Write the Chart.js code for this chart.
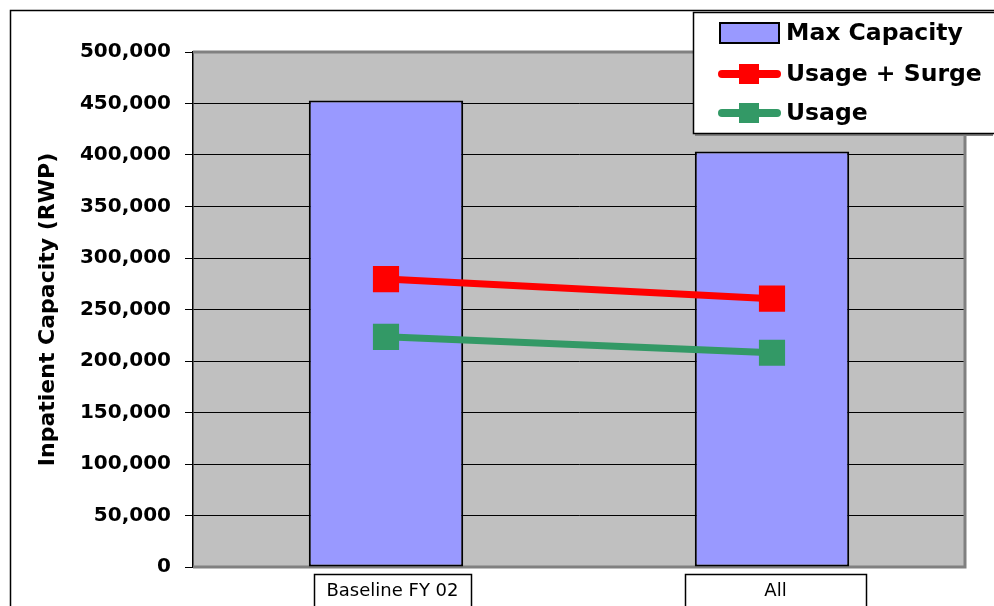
<!DOCTYPE html>
<html>
<head>
<meta charset="utf-8">
<script src="https://cdn.jsdelivr.net/npm/chart.js@4.4.0/dist/chart.umd.min.js"></script>
<style>
  html, body { margin: 0; padding: 0; background: #fff; }
  #wrap { width: 994px; height: 606px; }
</style>
</head>
<body>
<div id="wrap"><canvas id="capChart" width="994" height="606"></canvas></div>
<script>
// Chart data
const categories = ['Baseline FY 02', 'All'];
const maxCapacity = [453000, 403500];
const usageSurge = [279500, 260500];
const usage = [223500, 208000];
const yTicks = [0, 50000, 100000, 150000, 200000, 250000, 300000, 350000, 400000, 450000, 500000];

const FONT = '"DejaVu Sans", "Liberation Sans", Arial, sans-serif';

// Draws grey plot area, frame, label boxes and the legend box
const excelLook = {
    id: 'excelLook',
    beforeDraw(chart) {
        const { ctx, chartArea: a } = chart;
        ctx.save();
        ctx.fillStyle = '#C0C0C0';
        ctx.fillRect(a.left, a.top, a.right - a.left, a.bottom - a.top);
        // outer chart frame
        ctx.strokeStyle = '#000';
        ctx.lineWidth = 1.5;
        ctx.beginPath();
        ctx.moveTo(10.5, 606);
        ctx.lineTo(10.5, 10.5);
        ctx.lineTo(994, 10.5);
        ctx.stroke();
        ctx.restore();
    },
    beforeDatasetsDraw(chart) {
        const { ctx, chartArea: a } = chart;
        ctx.save();
        ctx.strokeStyle = '#808080';
        ctx.lineWidth = 3;
        ctx.beginPath();
        ctx.moveTo(a.left, a.top);
        ctx.lineTo(a.right, a.top);
        ctx.lineTo(a.right, a.bottom);
        ctx.lineTo(a.left, a.bottom);
        ctx.stroke();
        ctx.restore();
    },
    afterDraw(chart) {
        const { ctx } = chart;
        const xs = chart.scales.x;
        ctx.save();

        // boxes round category labels
        const boxes = [[-72, 157], [-87, 181]];
        ctx.strokeStyle = '#000';
        ctx.lineWidth = 1.5;
        chart.data.labels.forEach((lab, i) => {
            const cx = xs.getPixelForTick(i);
            const b = boxes[i];
            ctx.fillStyle = '#fff';
            ctx.fillRect(cx + b[0], 574, b[1], 40);
            ctx.strokeRect(cx + b[0] + 0.5, 574.5, b[1], 40);
            ctx.fillStyle = '#000';
            ctx.font = '18px ' + FONT;
            ctx.textAlign = 'center';
            ctx.textBaseline = 'middle';
            ctx.fillText(lab, cx + b[0] + b[1] / 2, 591);
        });

        // legend
        ctx.fillStyle = '#fff';
        ctx.fillRect(693, 12, 300, 122);
        ctx.strokeStyle = '#808080';
        ctx.lineWidth = 2;
        ctx.beginPath();
        ctx.moveTo(695, 135);
        ctx.lineTo(993, 135);
        ctx.stroke();
        ctx.strokeStyle = '#000';
        ctx.lineWidth = 1.5;
        ctx.strokeRect(693.5, 12.5, 310, 121);

        const ds = chart.data.datasets;
        const rows = [33, 74, 113];
        ds.forEach((d, i) => {
            const y = rows[i];
            if (d.type === 'bar') {
                ctx.fillStyle = d.backgroundColor;
                ctx.fillRect(720, y - 10, 59, 20);
                ctx.strokeStyle = '#000';
                ctx.lineWidth = 2;
                ctx.strokeRect(720, y - 10, 59, 20);
            } else {
                ctx.strokeStyle = d.borderColor;
                ctx.lineWidth = 8;
                ctx.lineCap = 'round';
                ctx.beginPath();
                ctx.moveTo(722, y);
                ctx.lineTo(777, y);
                ctx.stroke();
                ctx.fillStyle = d.borderColor;
                ctx.fillRect(739, y - 10, 20, 20);
            }
            ctx.fillStyle = '#000';
            ctx.font = 'bold 23.5px ' + FONT;
            ctx.textAlign = 'left';
            ctx.textBaseline = 'middle';
            ctx.fillText(d.label, 786, y + 1);
        });
        ctx.restore();
    }
};

const ctx = document.getElementById('capChart').getContext('2d');

new Chart(ctx, {
    data: {
        labels: categories,
        datasets: [
            {
                type: 'bar',
                label: 'Max Capacity',
                data: maxCapacity,
                backgroundColor: '#9999FF',
                borderColor: '#000',
                borderWidth: 2,
                borderSkipped: false,
                barPercentage: 0.4,
                categoryPercentage: 1,
                order: 2
            },
            {
                type: 'line',
                label: 'Usage + Surge',
                data: usageSurge,
                borderColor: '#FF0000',
                backgroundColor: '#FF0000',
                borderWidth: 7,
                pointStyle: 'rect',
                pointRadius: 18.5,
                pointBorderWidth: 0,
                order: 1
            },
            {
                type: 'line',
                label: 'Usage',
                data: usage,
                borderColor: '#339966',
                backgroundColor: '#339966',
                borderWidth: 7,
                pointStyle: 'rect',
                pointRadius: 18.5,
                pointBorderWidth: 0,
                order: 0
            }
        ]
    },
    options: {
        responsive: false,
        animation: false,
        layout: { padding: { left: 10, right: 29, top: 52, bottom: 0 } },
        plugins: {
            legend: { display: false },
            tooltip: { enabled: false }
        },
        scales: {
            x: {
                offset: true,
                grid: { display: false, drawTicks: false },
                border: { display: true, color: '#000', width: 1 },
                ticks: { display: false },
                afterFit: s => { s.height = 39; }
            },
            y: {
                min: 0,
                max: 500000,
                afterBuildTicks: s => { s.ticks = yTicks.map(v => ({ value: v })); },
                grid: { color: '#000', lineWidth: 1, tickLength: 8, tickColor: '#000' },
                border: { display: true, color: '#000', width: 1.5 },
                ticks: {
                    color: '#000',
                    padding: 14,
                    font: { family: FONT, size: 20, weight: 'bold' },
                    callback: v => v.toLocaleString('en-US')
                },
                title: {
                    display: true,
                    text: 'Inpatient Capacity (RWP)',
                    color: '#000',
                    font: { family: FONT, size: 22, weight: 'bold' },
                    padding: { top: 25, bottom: 0 }
                },
                afterFit: s => { s.width = 183; }
            }
        }
    },
    plugins: [excelLook]
});
</script>
</body>
</html>
